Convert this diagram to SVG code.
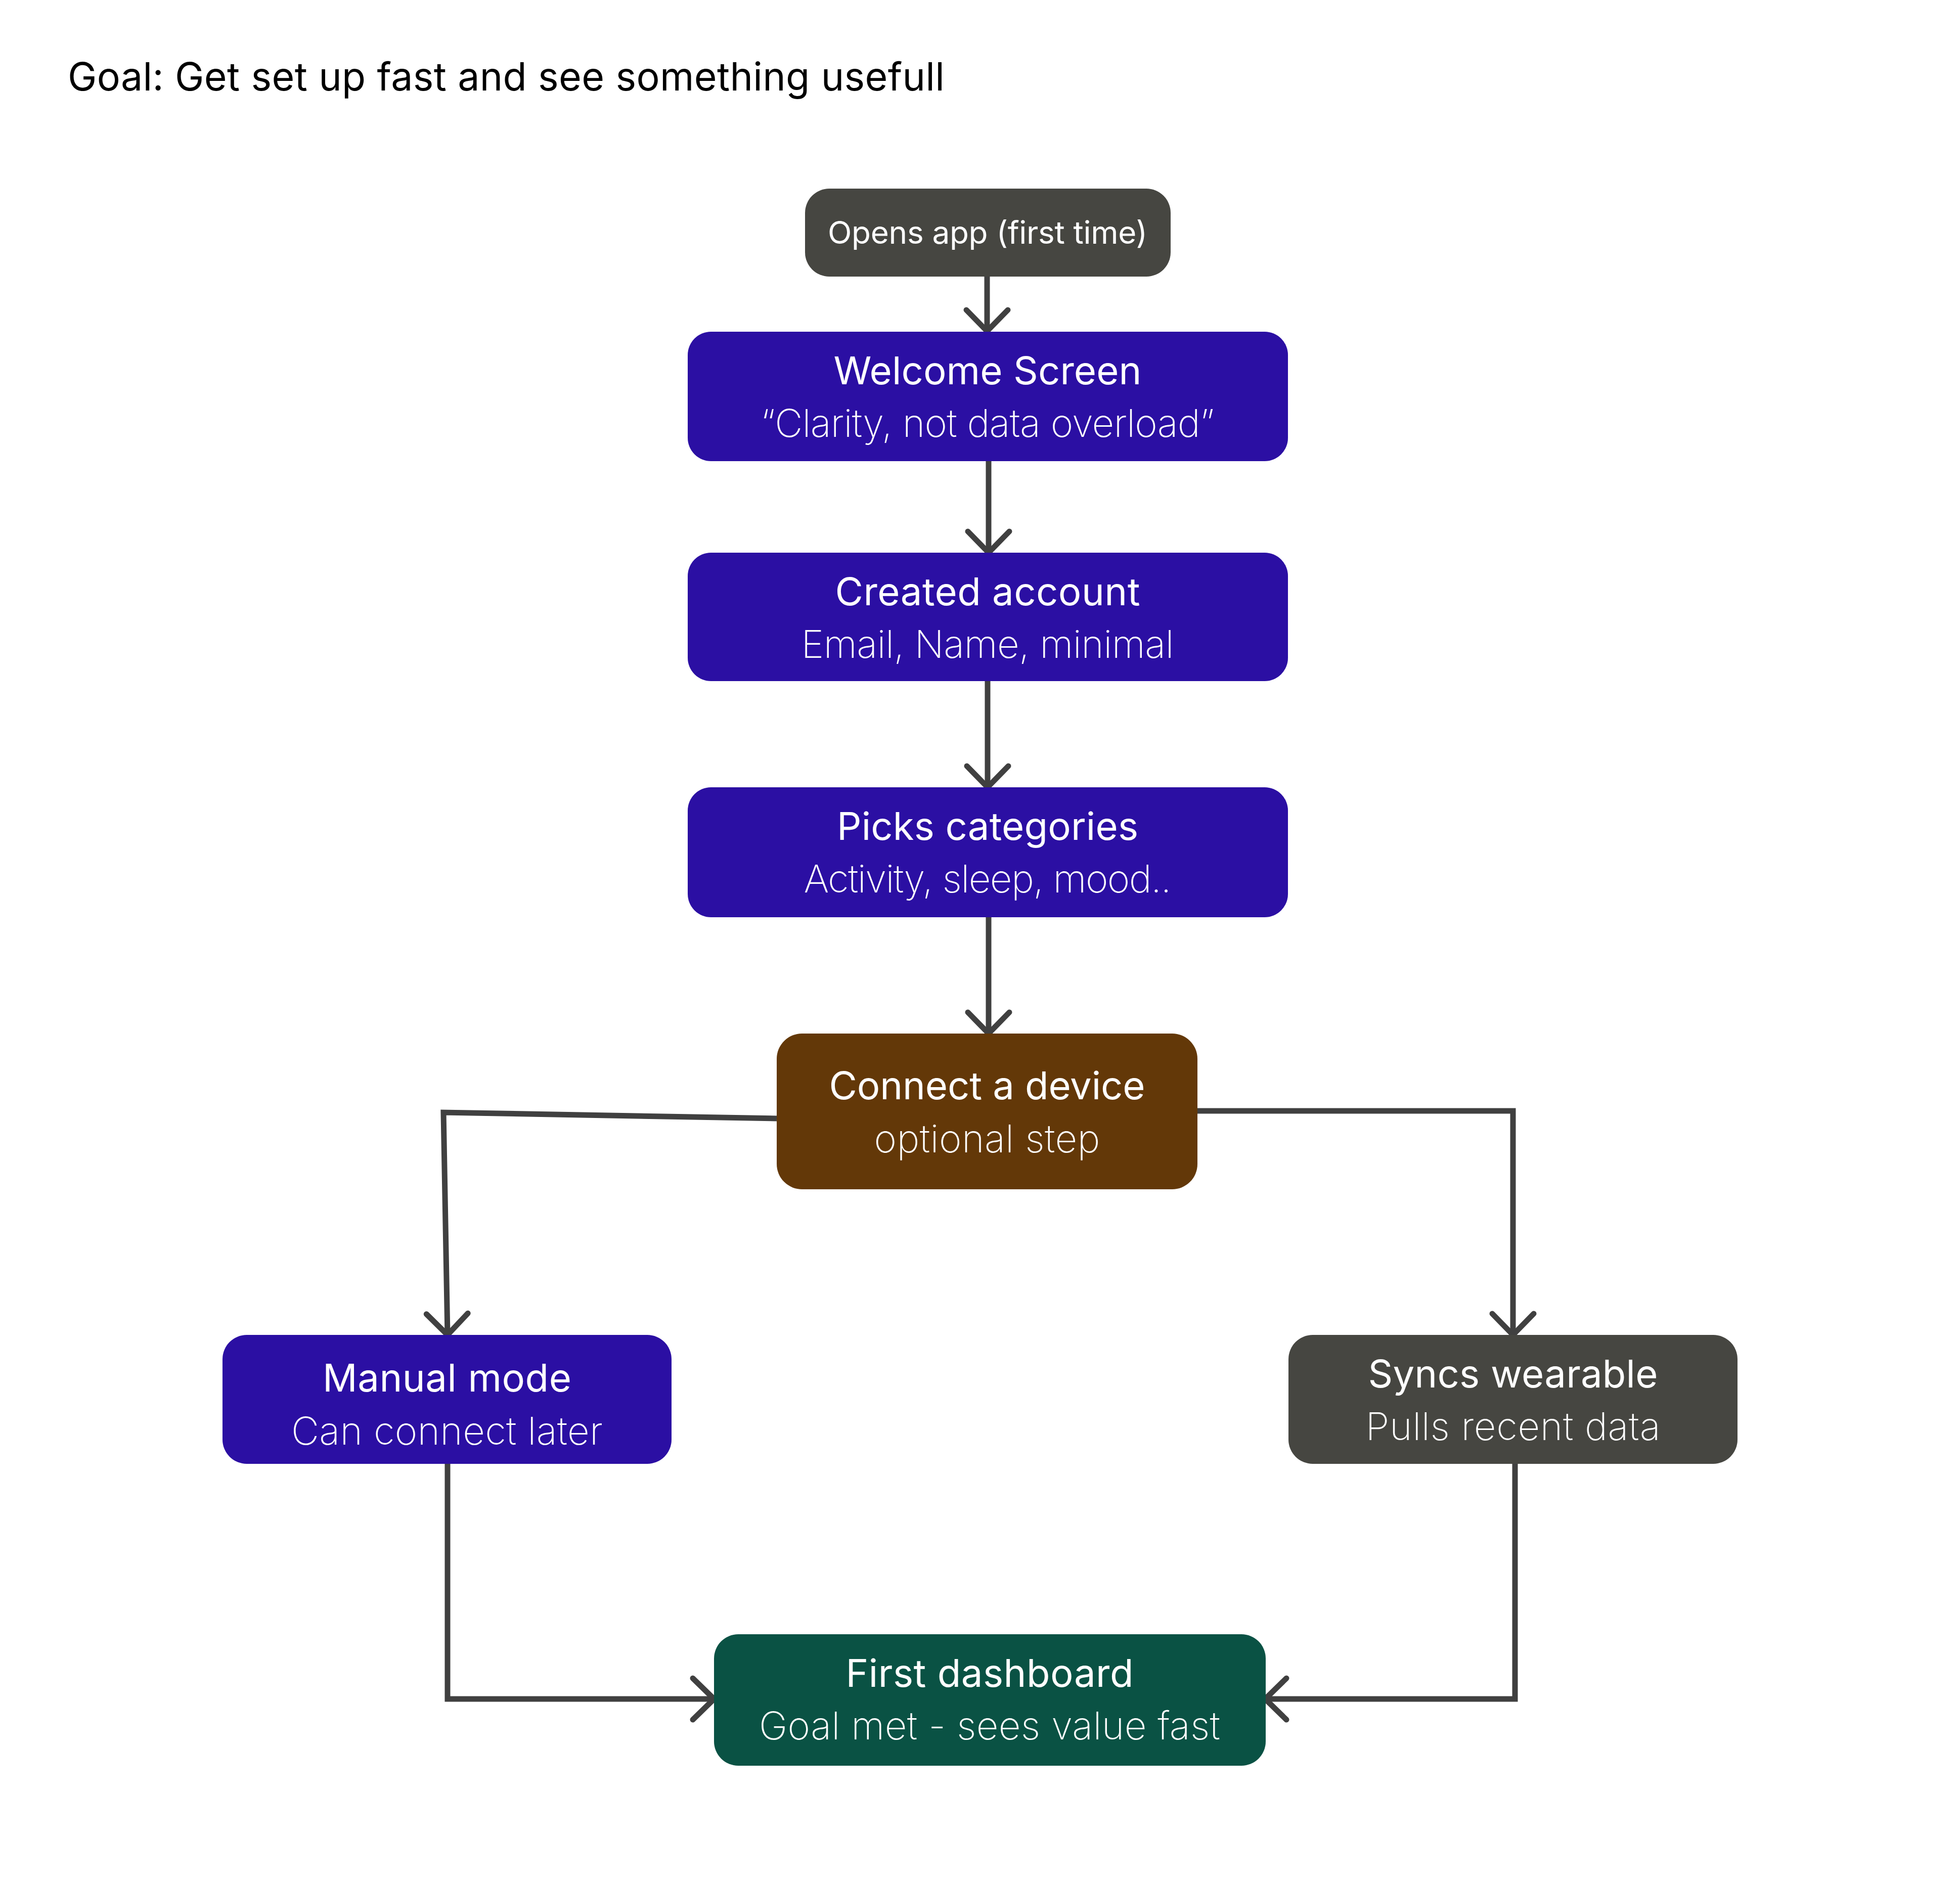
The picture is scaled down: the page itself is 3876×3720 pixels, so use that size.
<svg xmlns="http://www.w3.org/2000/svg" width="3876" height="3720" viewBox="0 0 3876 3720">
<style>
.t{font-family:Inter,"Noto Sans","Liberation Sans",sans-serif;fill:#ffffff;text-anchor:middle}
.h{font-size:76px;font-weight:400}
.s{font-size:76px;font-weight:200}
.c{fill:none;stroke:#404040;stroke-width:11;stroke-linejoin:miter}
</style>
<defs>
<marker id="arr" markerUnits="userSpaceOnUse" viewBox="-60 -60 80 120" refX="0" refY="0" markerWidth="80" markerHeight="120" orient="auto" overflow="visible">
<path d="M -42 -41 L 0 0 L -42 41" fill="none" stroke="#404040" stroke-width="11" stroke-linecap="round" stroke-linejoin="round"/>
</marker>
</defs>
<rect width="3876" height="3720" fill="#ffffff"/>
<text x="134" y="179" font-family="Inter,'Noto Sans','Liberation Sans',sans-serif" font-size="77" fill="#000000" textLength="1734" lengthAdjust="spacing">Goal: Get set up fast and see something usefull</text>
<g id="connectors">
<path class="c" d="M 1952 547 L 1952 655" marker-end="url(#arr)"/>
<path class="c" d="M 1955 912 L 1955 1093" marker-end="url(#arr)"/>
<path class="c" d="M 1953 1347 L 1953 1557" marker-end="url(#arr)"/>
<path class="c" d="M 1955 1814 L 1955 2044" marker-end="url(#arr)"/>
<path class="c" d="M 1536 2212 L 877 2200 L 885 2640" marker-end="url(#arr)"/>
<path class="c" d="M 2368 2197 L 2992 2197 L 2992 2640" marker-end="url(#arr)"/>
<path class="c" d="M 885 2895 L 885 3360 L 1412 3360" marker-end="url(#arr)"/>
<path class="c" d="M 2996 2895 L 2996 3360 L 2502 3360" marker-end="url(#arr)"/>
</g>
<g id="n-opens">
<rect x="1592" y="373" width="723" height="174" rx="48" fill="#464641"/>
<text class="t" x="1953" y="482" font-size="62" textLength="632" lengthAdjust="spacing">Opens app (first time)</text>
</g>
<g id="n-welcome">
<rect x="1360" y="656" width="1187" height="256" rx="46" fill="#2B0FA3"/>
<text class="t h" x="1953" y="760" textLength="609" lengthAdjust="spacing">Welcome Screen</text>
<text class="t s" x="1953" y="864" textLength="897" lengthAdjust="spacing">“Clarity, not data overload”</text>
</g>
<g id="n-account">
<rect x="1360" y="1093" width="1187" height="254" rx="46" fill="#2B0FA3"/>
<text class="t h" x="1953" y="1197" textLength="603" lengthAdjust="spacing">Created account</text>
<text class="t s" x="1953" y="1301" textLength="737" lengthAdjust="spacing">Email, Name, minimal</text>
</g>
<g id="n-categories">
<rect x="1360" y="1557" width="1187" height="257" rx="46" fill="#2B0FA3"/>
<text class="t h" x="1953" y="1661" textLength="596" lengthAdjust="spacing">Picks categories</text>
<text class="t s" x="1953" y="1765" textLength="727" lengthAdjust="spacing">Activity, sleep, mood..</text>
</g>
<g id="n-connect">
<rect x="1536" y="2044" width="832" height="308" rx="50" fill="#633808"/>
<text class="t h" x="1952" y="2174" textLength="625" lengthAdjust="spacing">Connect a device</text>
<text class="t s" x="1952" y="2279" textLength="447" lengthAdjust="spacing">optional step</text>
</g>
<g id="n-manual">
<rect x="440" y="2640" width="888" height="255" rx="48" fill="#2B0FA3"/>
<text class="t h" x="884" y="2752" textLength="492" lengthAdjust="spacing">Manual mode</text>
<text class="t s" x="884" y="2857" textLength="616" lengthAdjust="spacing">Can connect later</text>
</g>
<g id="n-syncs">
<rect x="2548" y="2640" width="888" height="255" rx="48" fill="#464641"/>
<text class="t h" x="2992" y="2744" textLength="573" lengthAdjust="spacing">Syncs wearable</text>
<text class="t s" x="2992" y="2848" textLength="583" lengthAdjust="spacing">Pulls recent data</text>
</g>
<g id="n-dashboard">
<rect x="1412" y="3232" width="1091" height="260" rx="48" fill="#0A5244"/>
<text class="t h" x="1957" y="3336" textLength="569" lengthAdjust="spacing">First dashboard</text>
<text class="t s" x="1957" y="3440" textLength="912" lengthAdjust="spacing">Goal met - sees value fast</text>
</g>
</svg>
